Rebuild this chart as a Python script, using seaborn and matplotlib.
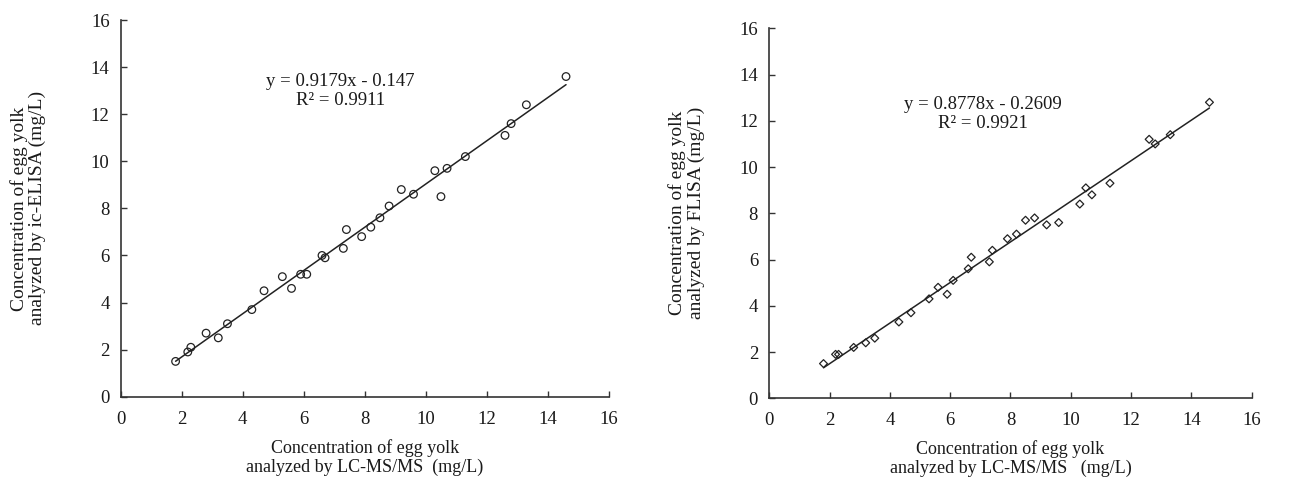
import numpy as np
import pandas as pd
import matplotlib
matplotlib.use("Agg")
import matplotlib.pyplot as plt
import seaborn as sns

# LC-MS/MS concentrations (shared x for both panels)
lcms = [1.8, 2.2, 2.3, 2.8, 3.2, 3.5, 4.3, 4.7, 5.3, 5.6,
        5.9, 6.1, 6.6, 6.7, 7.3, 7.4, 7.9, 8.2, 8.5, 8.8,
        9.2, 9.6, 10.3, 10.5, 10.7, 11.3, 12.6, 12.8, 13.3, 14.6]
ic_elisa = [1.5, 1.9, 2.1, 2.7, 2.5, 3.1, 3.7, 4.5, 5.1, 4.6,
            5.2, 5.2, 6.0, 5.9, 6.3, 7.1, 6.8, 7.2, 7.6, 8.1,
            8.8, 8.6, 9.6, 8.5, 9.7, 10.2, 11.1, 11.6, 12.4, 13.6]
flisa = [1.5, 1.9, 1.9, 2.2, 2.4, 2.6, 3.3, 3.7, 4.3, 4.8,
         4.5, 5.1, 5.6, 6.1, 5.9, 6.4, 6.9, 7.1, 7.7, 7.8,
         7.5, 7.6, 8.4, 9.1, 8.8, 9.3, 11.2, 11.0, 11.4, 12.8]

# fitted lines as printed on the chart
fit_left = (0.9179, -0.147, 0.9911)
fit_right = (0.8778, -0.2609, 0.9921)

ticks = [0, 2, 4, 6, 8, 10, 12, 14, 16]

sns.set_style("ticks")
plt.rcParams["font.family"] = ["Liberation Serif", "DejaVu Serif"]

df = pd.DataFrame({"lcms": lcms, "ic": ic_elisa, "fl": flisa})

fig = plt.figure(figsize=(13.06, 4.79), dpi=100)
ax1 = fig.add_axes([0.0924, 0.1718, 0.3737, 0.7864])
ax2 = fig.add_axes([0.589, 0.1685, 0.3694, 0.7724])

txt = "#1a1a1a"


def panel(ax, ycol, marker, size, fit, ylab, xlab, eq_xy, ypad):
    sns.scatterplot(data=df, x="lcms", y=ycol, ax=ax, marker=marker, s=size,
                    facecolor="none", edgecolor="#222222", linewidth=0.9)
    m, b, r2 = fit
    xs = np.array([min(lcms), max(lcms)])
    ax.plot(xs, m * xs + b, color="#222222", lw=1.1)
    sign = "-" if b < 0 else "+"
    ax.text(eq_xy[0], eq_xy[1],
            "y = %.4fx %s %s\nR² = %.4f" % (m, sign, str(abs(b)), r2),
            ha="center", va="center", fontsize=13.5, color=txt, linespacing=1.15)
    ax.set_xlim(0, 16)
    ax.set_ylim(0, 16)
    ax.set_xticks(ticks)
    ax.set_yticks(ticks)
    ax.tick_params(direction="in", length=4, width=1, labelsize=13.5,
                   colors="#333333", labelcolor=txt)
    ax.tick_params(axis="x", pad=10)
    ax.tick_params(axis="y", pad=8)
    for s in ["left", "bottom"]:
        ax.spines[s].set_color("#333333")
        ax.spines[s].set_linewidth(1.2)
    sns.despine(ax=ax)
    ax.set_xlabel(xlab, fontsize=13, color=txt, labelpad=8, linespacing=1.15)
    ax.set_ylabel(ylab, fontsize=14, color=txt, labelpad=ypad, linespacing=1.1)


panel(ax1, "ic", "o", 30, fit_left,
      "Concentration of egg yolk\nanalyzed by ic-ELISA (mg/L)",
      "Concentration of egg yolk\nanalyzed by LC-MS/MS  (mg/L)", (7.2, 13.0), 32)
panel(ax2, "fl", "D", 16, fit_right,
      "Concentration of egg yolk\nanalyzed by FLISA (mg/L)",
      "Concentration of egg yolk\nanalyzed by LC-MS/MS   (mg/L)", (7.1, 12.3), 25)

fig.savefig("out.png", dpi=100)
